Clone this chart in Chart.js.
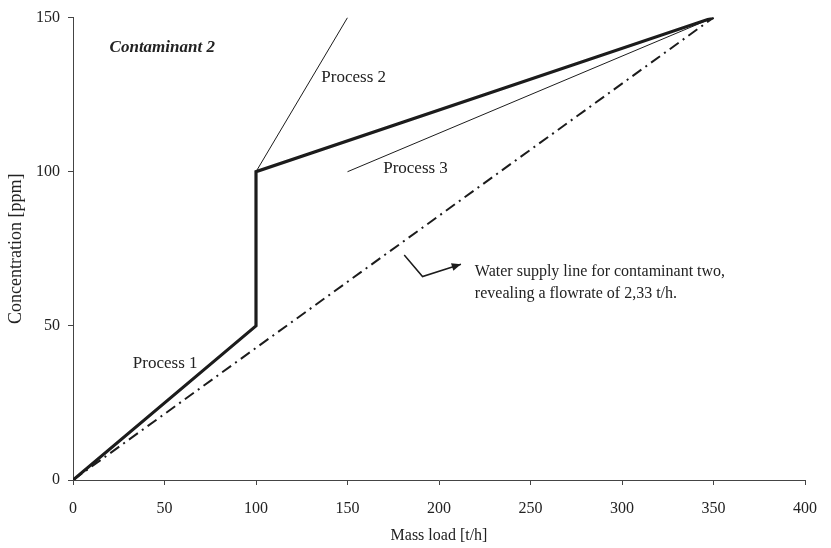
<!DOCTYPE html>
<html>
<head>
<meta charset="utf-8">
<script src="https://cdn.jsdelivr.net/npm/chart.js@4"></script>
<style>
  html, body { margin: 0; padding: 0; background: #fff; }
  #wrap { width: 831px; height: 548px; }
</style>
</head>
<body>
<div id="wrap"><canvas id="myChart" width="831" height="548"></canvas></div>
<script>
// composite (thick) curve
const massLoad = [0, 100, 100, 350];
const concentration = [0, 50, 100, 150];
// single process lines
const process2X = [100, 150];
const process2Y = [100, 150];
const process3X = [150, 350];
const process3Y = [100, 150];
// water supply line
const supplyX = [0, 350];
const supplyY = [0, 150];
// annotation arrow
const arrowX = [181, 191, 212];
const arrowY = [73, 66, 70];
// ticks
const xTicks = [0, 50, 100, 150, 200, 250, 300, 350, 400];
const yTicks = [0, 50, 100, 150];

const ink = "#1c1c1c";
const font = "'Liberation Serif', 'DejaVu Serif', serif";

function pts(xs, ys) {
  return xs.map((x, i) => ({ x: x, y: ys[i] }));
}

const labels = [
  { text: "Contaminant 2", x: 20, y: 140.4, style: "italic bold 17px " + font },
  { text: "Process 2", x: 135.7, y: 130.7, style: "17px " + font },
  { text: "Process 3", x: 169.5, y: 101.2, style: "17px " + font },
  { text: "Process 1", x: 32.7, y: 37.9, style: "17px " + font },
  { text: "Water supply line for contaminant two,", x: 219.6, y: 67.5, style: "16px " + font },
  { text: "revealing a flowrate of 2,33 t/h.", x: 219.6, y: 60.4, style: "16px " + font },
];

const notes = {
  id: "notes",
  afterDatasetsDraw(chart) {
    const ctx = chart.ctx;
    const xs = chart.scales.x;
    const ys = chart.scales.y;
    ctx.save();
    ctx.fillStyle = "#222";
    ctx.textBaseline = "middle";
    ctx.textAlign = "left";
    labels.forEach((l) => {
      ctx.font = l.style;
      ctx.fillText(l.text, xs.getPixelForValue(l.x), ys.getPixelForValue(l.y));
    });
    // arrow head at end of arrow path
    const n = arrowX.length;
    const x1 = xs.getPixelForValue(arrowX[n - 2]);
    const y1 = ys.getPixelForValue(arrowY[n - 2]);
    const x2 = xs.getPixelForValue(arrowX[n - 1]);
    const y2 = ys.getPixelForValue(arrowY[n - 1]);
    const a = Math.atan2(y2 - y1, x2 - x1);
    ctx.fillStyle = ink;
    ctx.beginPath();
    ctx.moveTo(x2, y2);
    ctx.lineTo(x2 - 10 * Math.cos(a - 0.4), y2 - 10 * Math.sin(a - 0.4));
    ctx.lineTo(x2 - 10 * Math.cos(a + 0.4), y2 - 10 * Math.sin(a + 0.4));
    ctx.closePath();
    ctx.fill();
    ctx.restore();
  },
};

const line = (data, width, dash) => ({
  data: data,
  borderColor: ink,
  borderWidth: width,
  borderDash: dash || [],
  pointRadius: 0,
  fill: false,
  tension: 0,
});

var ctx = document.getElementById("myChart").getContext("2d");
var chart = new Chart(ctx, {
  type: "line",
  data: {
    datasets: [
      line(pts(supplyX, supplyY), 2, [11, 5, 2, 5]),
      line(pts(process2X, process2Y), 1),
      line(pts(process3X, process3Y), 1),
      line(pts(arrowX, arrowY), 1.5),
      line(pts(massLoad, concentration), 3.2),
    ],
  },
  options: {
    responsive: false,
    animation: false,
    layout: { padding: { left: 0, right: 22, top: 12, bottom: 0 } },
    plugins: { legend: { display: false }, tooltip: { enabled: false } },
    scales: {
      x: {
        type: "linear",
        min: 0,
        max: 400,
        afterBuildTicks: (s) => { s.ticks = xTicks.map((v) => ({ value: v })); },
        afterFit: (s) => { s.height = 68; },
        border: { display: true, color: "#444", width: 1 },
        grid: { drawOnChartArea: false, tickLength: 5, color: "#444" },
        ticks: { color: "#222", font: { family: font, size: 16 }, padding: 14, maxRotation: 0 },
        title: { display: true, text: "Mass load [t/h]", color: "#222", font: { family: font, size: 16 }, padding: { top: 4, bottom: 3 } },
      },
      y: {
        type: "linear",
        min: 0,
        max: 150,
        afterBuildTicks: (s) => { s.ticks = yTicks.map((v) => ({ value: v })); },
        afterFit: (s) => { s.width = 73; },
        border: { display: true, color: "#444", width: 1 },
        grid: { drawOnChartArea: false, tickLength: 5, color: "#444" },
        ticks: { color: "#222", font: { family: font, size: 16 }, padding: 8 },
        title: { display: true, text: "Concentration [ppm]", color: "#222", font: { family: font, size: 18 }, padding: { top: 5, bottom: 0 } },
      },
    },
  },
  plugins: [notes],
});
</script>
</body>
</html>
